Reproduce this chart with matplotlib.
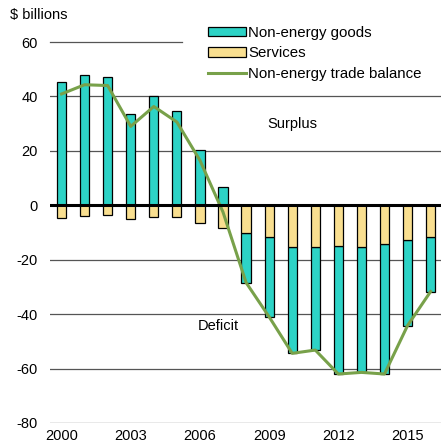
import numpy as np
import matplotlib.pyplot as plt
from matplotlib.lines import Line2D
from matplotlib.patches import Patch

plt.rcParams['font.family'] = ['Liberation Sans', 'DejaVu Sans']

years = list(range(2000, 2017))
goods = [45.2, 47.7, 47.0, 33.6, 40.3, 34.6, 20.4, 6.9,
         -18.4, -29.5, -39.2, -38.0, -47.2, -45.9, -47.6, -31.6, -20.2]
services = [-4.5, -3.9, -3.4, -5.1, -4.4, -4.3, -6.6, -8.2,
            -10.0, -11.5, -15.2, -15.2, -14.8, -15.5, -14.4, -12.6, -11.5]
balance = [40.9, 44.3, 44.0, 29.0, 36.3, 30.6, 16.5, -2.5,
           -28.4, -41.0, -54.4, -53.2, -62.0, -61.4, -62.0, -44.2, -31.7]
tick_years = [2000, 2003, 2006, 2009, 2012, 2015]

teal = '#2dd3c6'
sand = '#f9df90'
green = '#78a14a'

fig = plt.figure(figsize=(4.41, 4.46), dpi=100)
ax = fig.add_axes([50 / 441, 23 / 446, 1 - 50 / 441, 381 / 446])

x = np.arange(len(years))
# goods stack above zero when positive, below services when negative
g_bottom = [s if g < 0 else 0 for g, s in zip(goods, services)]
ax.bar(x, goods, width=0.4, bottom=g_bottom, color=teal, edgecolor='black', linewidth=0.9, zorder=3)
ax.bar(x, services, width=0.4, color=sand, edgecolor='black', linewidth=0.9, zorder=3)
ax.plot(x, balance, color=green, linewidth=2.2, zorder=4)

for v in [40, 20, -20, -40, -60, -80]:
    ax.axhline(v, color='#555555', linewidth=0.9, zorder=1)
# top gridline is hidden behind the legend box
ax.axhline(60, xmax=132 / 391, color='#555555', linewidth=0.9, zorder=1, clip_on=False)
ax.axhline(0, color='black', linewidth=2.2, zorder=5)

ax.set_xlim(-0.5, 16.45)
ax.set_ylim(-80, 60)
ax.set_yticks([60, 40, 20, 0, -20, -40, -60, -80])
ax.set_yticklabels(['60', '40', '20', '0', '-20', '-40', '-60', '-80'])
ax.set_xticks([y - 2000 for y in tick_years])
ax.set_xticklabels([str(y) for y in tick_years])
ax.tick_params(length=0, labelsize=10.5, colors='black')
ax.tick_params(axis='y', pad=9)
ax.tick_params(axis='x', pad=4)
for s in ax.spines.values():
    s.set_visible(False)

ax.text(10.0, 30, 'Surplus', fontsize=10.5, ha='center', va='center')
ax.text(6.8, -44.5, 'Deficit', fontsize=10.5, ha='center', va='center')
fig.text(10 / 441, 1 - 15 / 446, '$ billions', fontsize=10.5, ha='left', va='center')

handles = [Patch(facecolor=teal, edgecolor='black', linewidth=0.9),
           Patch(facecolor=sand, edgecolor='black', linewidth=0.9),
           Line2D([0], [0], color=green, linewidth=2.2)]
labels = ['Non-energy goods', 'Services', 'Non-energy trade balance']
leg = fig.legend(handles, labels, loc='upper left', bbox_to_anchor=(208 / 441, 1 - 26 / 446),
                 frameon=False, fontsize=10.8, handlelength=2.5, handleheight=0.55,
                 handletextpad=0.2, labelspacing=0.42, borderpad=0.0, borderaxespad=0)

fig.savefig('out.png', dpi=100)
